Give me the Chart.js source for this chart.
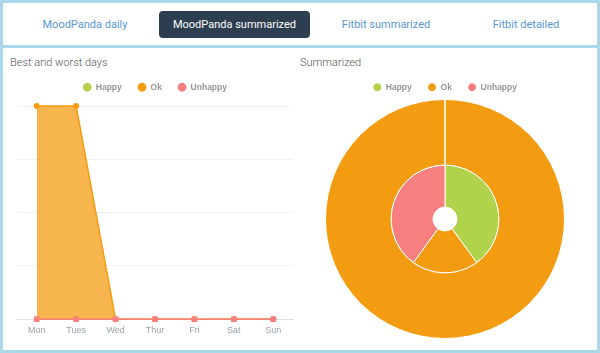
<!DOCTYPE html>
<html>
<head>
<meta charset="utf-8">
<script src="https://cdn.jsdelivr.net/npm/chart.js@4"></script>
<style>
  html, body { margin:0; padding:0; }
  body { width:600px; height:353px; background:#a9d9e8; position:relative; overflow:hidden; font-family: Roboto, "Liberation Sans", Arial, sans-serif; }
  #nav { position:absolute; left:3px; top:3px; width:594px; height:42px; background:#fff; }
  .tab { position:absolute; top:8px; height:27px; line-height:27px; text-align:center; font-size:11px; color:#5b97d1; }
  .tab.active { background:#2c3e50; color:#fff; border-radius:4px; }
  #content { position:absolute; left:3px; top:48px; width:594px; height:302px; background:#fff; }
  .ttl { position:absolute; top:56px; font-size:11px; color:#555; font-weight:300; }
  canvas { position:absolute; }
</style>
</head>
<body>
<div id="nav">
  <div class="tab" style="left:10px;width:144px;">MoodPanda daily</div>
  <div class="tab active" style="left:156px;width:151px;">MoodPanda summarized</div>
  <div class="tab" style="left:310px;width:146px;">Fitbit summarized</div>
  <div class="tab" style="left:458px;width:130px;">Fitbit detailed</div>
</div>
<div id="content"></div>
<div class="ttl" style="left:10px;">Best and worst days</div>
<div class="ttl" style="left:300px;">Summarized</div>
<canvas id="lineChart" width="294" height="283" style="left:3px;top:67px;"></canvas>
<canvas id="pieChart" width="296" height="283" style="left:297px;top:67px;"></canvas>
<script>
const days = ['Mon','Tues','Wed','Thur','Fri','Sat','Sun'];
const happyDays = [0,0,0,0,0,0,0];
const okDays = [1,1,0,0,0,0,0];
const unhappyDays = [0,0,0,0,0,0,0];

const moodLabels = ['Happy','Ok','Unhappy'];
const outerRing = [0,2,0];
const innerRing = [2,1,2];

const GREEN = '#b1d34b', ORANGE = '#f39c12', PINK = '#f87f7f';

const legendExtra = {
  id: 'legendExtra',
  beforeInit(chart, args, opts) {
    const fit = chart.legend.fit;
    chart.legend.fit = function() {
      fit.call(this);
      this.height += (opts.extra || 0);
    };
  }
};

const legendLabels = {
  usePointStyle: true,
  pointStyle: 'circle',
  boxWidth: 8.5, boxHeight: 6.2,
  padding: 16,
  color: '#959595',
  font: { size: 8.5, weight: 'bold', family: '"Liberation Sans", Arial, sans-serif' }
};

new Chart(document.getElementById('lineChart'), {
  type: 'line',
  data: {
    labels: days,
    datasets: [
      { label: 'Happy', data: happyDays, borderColor: GREEN, backgroundColor: GREEN, borderWidth: 1.5,
        pointRadius: 2.5, pointBackgroundColor: GREEN, pointBorderWidth: 0, fill: false, order: 2, tension: 0, clip: false },
      { label: 'Ok', data: okDays, borderColor: ORANGE, backgroundColor: 'rgba(243,156,18,0.75)', borderWidth: 1.5,
        pointRadius: 3, pointBackgroundColor: ORANGE, pointBorderWidth: 0, fill: 'origin', order: 1, tension: 0, clip: false },
      { label: 'Unhappy', data: unhappyDays, borderColor: PINK, backgroundColor: PINK, borderWidth: 1.5,
        pointStyle: 'rect', pointRadius: 4, pointBackgroundColor: PINK, pointBorderWidth: 0, fill: false, order: 0, tension: 0, clip: false }
    ]
  },
  options: {
    responsive: false,
    animation: false,
    layout: { padding: { left: 14, right: 4, top: 0, bottom: 8 } },
    plugins: {
      legendExtra: { extra: 4.5 },
      legend: {
        labels: Object.assign({}, legendLabels, {
          sort: (a, b) => a.datasetIndex - b.datasetIndex,
          generateLabels: (chart) => {
            const items = Chart.defaults.plugins.legend.labels.generateLabels(chart);
            items.forEach(it => { const ds = chart.data.datasets[it.datasetIndex]; it.fillStyle = ds.borderColor; it.strokeStyle = ds.borderColor; it.pointStyle = 'circle'; });
            return items;
          }
        })
      },
      tooltip: { enabled: false }
    },
    scales: {
      x: {
        offset: true,
        grid: { display: false, drawTicks: false },
        border: { color: '#e0e0e0' },
        ticks: { color: '#98a0a8', font: { size: 9 }, padding: 6 }
      },
      y: {
        min: 0, max: 1,
        ticks: { display: false, stepSize: 0.25 },
        grid: { color: '#f2f2f2', drawTicks: false },
        border: { display: false }
      }
    }
  },
  plugins: [legendExtra]
});

new Chart(document.getElementById('pieChart'), {
  type: 'doughnut',
  data: {
    labels: moodLabels,
    datasets: [
      { data: outerRing, backgroundColor: [GREEN, ORANGE, PINK], borderColor: '#fff', borderWidth: 1, weight: 1.56 },
      { data: innerRing, backgroundColor: [GREEN, ORANGE, PINK], borderColor: '#fff', borderWidth: 1, weight: 1 }
    ]
  },
  options: {
    responsive: false,
    animation: false,
    cutout: '10%',
    layout: { padding: { bottom: 11 } },
    plugins: {
      legendExtra: { extra: -2.5 },
      legend: { labels: legendLabels },
      tooltip: { enabled: false }
    }
  },
  plugins: [legendExtra]
});
</script>
</body>
</html>
